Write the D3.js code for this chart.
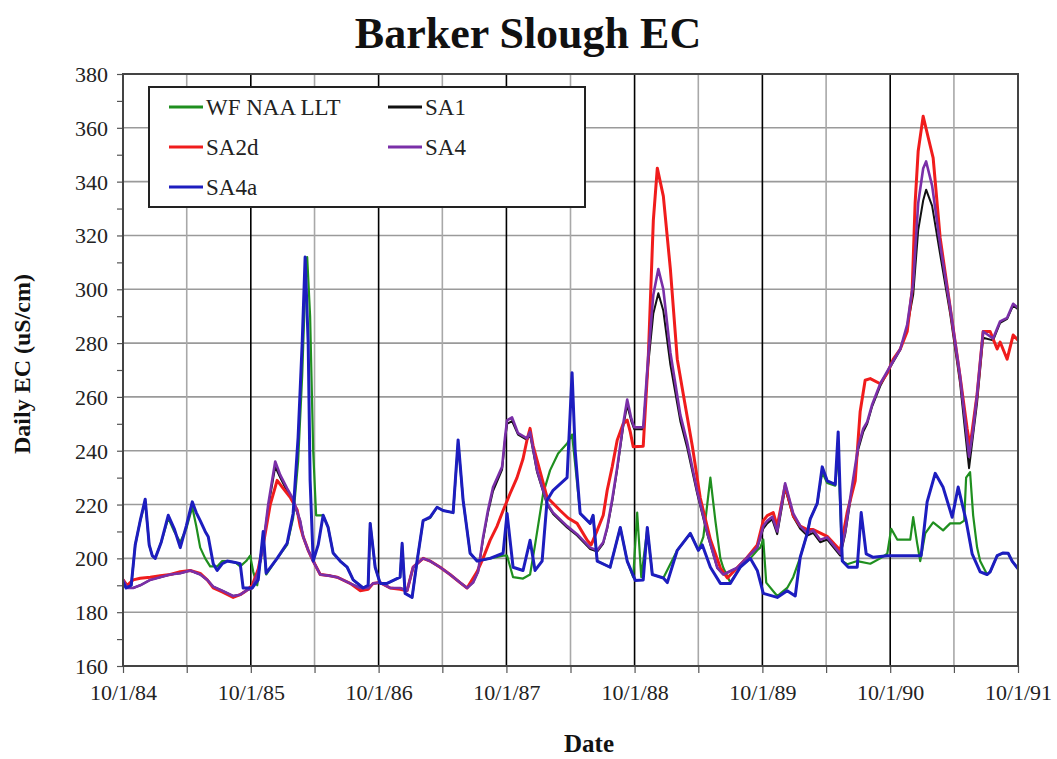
<!DOCTYPE html>
<html><head><meta charset="utf-8">
<script src="https://cdn.jsdelivr.net/npm/d3@7"></script>
<style>html,body{margin:0;padding:0;background:#fff;}svg{display:block;}</style>
</head><body>
<svg id="chart" width="1057" height="759"></svg>
<script>
// ---------------- data (decimal year, daily EC uS/cm) ----------------
const title = "Barker Slough EC";
const yTicks = [160,180,200,220,240,260,280,300,320,340,360,380];
const xTickYears = [1984,1985,1986,1987,1988,1989,1990,1991];
const seriesNames = ["WF NAA LLT","SA1","SA2d","SA4","SA4a"];
const seriesColors = ["#1f8f1f","#111111","#f01c1c","#7a2fa8","#1d1dbf"];

const WF_NAA_LLT = [[1984.750,191],[1984.773,189],[1984.813,190],[1984.844,205],[1984.883,214],[1984.922,221],[1984.953,205],[1984.977,201],[1985.000,200],[1985.047,206],[1985.102,215],[1985.149,210],[1985.196,206],[1985.243,211],[1985.290,219],[1985.321,212],[1985.352,204],[1985.391,200],[1985.430,197],[1985.485,197],[1985.524,199],[1985.563,199],[1985.626,198.5],[1985.665,197],[1985.712,199],[1985.743,201],[1985.767,195],[1985.798,190],[1985.845,208],[1985.868,194],[1985.954,200],[1986.032,205],[1986.079,215],[1986.118,236],[1986.150,268],[1986.173,300],[1986.189,312],[1986.212,290],[1986.236,240],[1986.259,216],[1986.314,216],[1986.353,211.5],[1986.392,202],[1986.447,199],[1986.502,196.7],[1986.549,192],[1986.627,189],[1986.666,190],[1986.682,213],[1986.721,196.7],[1986.760,190.7],[1986.814,190.7],[1986.916,193],[1986.932,205],[1986.955,187],[1987.010,185.5],[1987.049,199],[1987.096,214],[1987.151,215],[1987.205,219],[1987.252,217.8],[1987.331,217],[1987.370,243],[1987.409,221.6],[1987.464,201.9],[1987.518,199],[1987.620,200],[1987.722,201],[1987.753,201],[1987.800,193],[1987.878,192.5],[1987.933,194],[1987.972,205],[1988.035,224],[1988.089,232.7],[1988.152,239],[1988.222,242.7],[1988.261,246],[1988.285,235],[1988.324,216.7],[1988.402,213],[1988.425,216],[1988.457,199],[1988.558,196.7],[1988.637,211.5],[1988.691,199],[1988.738,193],[1988.769,217],[1988.801,193],[1988.848,211],[1988.887,194],[1988.973,192.7],[1989.082,203],[1989.184,209.3],[1989.247,203],[1989.286,208],[1989.309,217],[1989.341,230],[1989.380,214],[1989.419,200],[1989.442,196.5],[1989.497,191],[1989.575,196.7],[1989.653,200],[1989.708,203],[1989.731,204],[1989.755,207],[1989.778,191],[1989.864,186],[1989.942,189],[1989.989,193],[1990.044,200.4],[1990.099,209.3],[1990.122,214.6],[1990.177,220.4],[1990.216,232],[1990.255,228],[1990.318,227],[1990.341,240],[1990.373,199],[1990.412,197.8],[1990.490,199],[1990.592,198],[1990.670,200],[1990.725,201.7],[1990.756,211],[1990.803,207],[1990.905,207],[1990.928,215.3],[1990.959,205.6],[1990.983,199],[1991.022,209.3],[1991.084,213.4],[1991.162,210.4],[1991.217,213],[1991.295,213],[1991.327,214],[1991.342,230],[1991.373,232],[1991.397,216],[1991.428,204],[1991.452,199],[1991.506,194],[1991.530,195],[1991.585,201],[1991.632,202],[1991.671,201.9],[1991.702,199],[1991.750,196]];

const SA4 = [[1984.750,192],[1984.781,189],[1984.828,189],[1984.883,190],[1984.961,192],[1985.039,193],[1985.118,194],[1985.196,194.5],[1985.274,195.5],[1985.352,194],[1985.407,192],[1985.454,189.5],[1985.524,188],[1985.610,186],[1985.665,186.5],[1985.712,188],[1985.759,189],[1985.806,195],[1985.845,205],[1985.884,220],[1985.939,236],[1985.978,231],[1986.032,226],[1986.079,222],[1986.134,214],[1986.158,208],[1986.197,203],[1986.236,199],[1986.291,194],[1986.369,193.5],[1986.423,193],[1986.525,190.7],[1986.603,189],[1986.666,189],[1986.705,190.7],[1986.760,191],[1986.838,189],[1986.916,189],[1986.971,188],[1987.018,196.7],[1987.096,200],[1987.151,199],[1987.229,196.7],[1987.307,194],[1987.385,191],[1987.440,189],[1987.487,191],[1987.526,195],[1987.565,207.8],[1987.604,218],[1987.643,226.4],[1987.714,234],[1987.737,245],[1987.753,251.3],[1987.792,252.4],[1987.839,246.5],[1987.909,244.6],[1987.933,247],[1987.988,232.7],[1988.066,220.4],[1988.113,217],[1988.222,212],[1988.300,209],[1988.402,204],[1988.457,203],[1988.504,206],[1988.535,211.5],[1988.574,222],[1988.613,233.8],[1988.660,250],[1988.691,259],[1988.723,252],[1988.746,248.7],[1988.816,248.7],[1988.855,275],[1988.895,298],[1988.934,307.5],[1988.973,300],[1989.028,276.5],[1989.106,253.3],[1989.160,243],[1989.238,225],[1989.317,209.5],[1989.395,196.5],[1989.442,194],[1989.551,196.5],[1989.630,200.4],[1989.708,204],[1989.755,212],[1989.786,214],[1989.825,215.5],[1989.864,210],[1989.926,227.9],[1989.989,216.7],[1990.044,212],[1990.099,209.3],[1990.146,210.4],[1990.200,206.9],[1990.255,207.8],[1990.357,201.7],[1990.396,210],[1990.435,222.4],[1990.498,241.7],[1990.537,248.2],[1990.568,250.7],[1990.607,257.2],[1990.670,264.9],[1990.748,271.4],[1990.827,277.8],[1990.881,286.9],[1990.928,302.3],[1990.967,332],[1991.006,344.9],[1991.029,347.5],[1991.076,338.5],[1991.139,316.5],[1991.217,293.3],[1991.295,267.5],[1991.350,244.3],[1991.365,237.8],[1991.397,248],[1991.428,261],[1991.475,284.3],[1991.553,281.7],[1991.608,288.1],[1991.663,289.4],[1991.710,294.6],[1991.750,293]];

const SA1 = [[1984.750,192],[1984.781,189],[1984.828,189],[1984.883,190],[1984.961,192],[1985.039,193],[1985.118,194],[1985.196,194.5],[1985.274,195.5],[1985.352,194],[1985.407,192],[1985.454,189.5],[1985.524,188],[1985.610,186],[1985.665,186.5],[1985.712,188],[1985.759,189],[1985.806,195],[1985.845,205],[1985.884,219],[1985.939,234],[1985.978,230],[1986.032,225],[1986.079,221],[1986.134,214],[1986.158,208],[1986.197,203],[1986.236,199],[1986.291,194],[1986.369,193.5],[1986.423,193],[1986.525,190.7],[1986.603,189],[1986.666,189],[1986.705,190.7],[1986.760,191],[1986.838,189],[1986.916,189],[1986.971,188],[1987.018,196.7],[1987.096,200],[1987.151,199],[1987.229,196.7],[1987.307,194],[1987.385,191],[1987.440,189],[1987.487,191],[1987.526,195],[1987.565,207],[1987.604,217],[1987.643,225],[1987.714,233],[1987.737,244],[1987.753,250],[1987.792,251],[1987.839,246],[1987.909,244],[1987.933,246],[1987.988,232],[1988.066,220],[1988.113,216.5],[1988.222,211.5],[1988.300,208.5],[1988.402,203.5],[1988.457,202.5],[1988.504,205.5],[1988.535,211],[1988.574,221],[1988.613,233],[1988.660,249],[1988.691,257],[1988.723,251],[1988.746,248],[1988.816,248],[1988.855,272],[1988.895,291],[1988.934,298.5],[1988.973,292],[1989.028,272],[1989.106,251],[1989.160,241],[1989.238,224],[1989.317,209],[1989.395,196.5],[1989.442,194],[1989.551,196.5],[1989.630,200.4],[1989.708,204],[1989.755,211],[1989.786,213],[1989.825,214.5],[1989.864,209],[1989.926,226],[1989.989,215.5],[1990.044,211],[1990.099,208.5],[1990.146,209.5],[1990.200,206],[1990.255,207],[1990.357,201],[1990.396,209],[1990.435,221],[1990.498,240.5],[1990.537,247],[1990.568,250],[1990.607,256.5],[1990.670,264],[1990.748,271],[1990.827,277.5],[1990.881,286],[1990.928,298],[1990.967,322],[1991.006,333],[1991.029,337],[1991.076,331],[1991.139,313],[1991.217,291],[1991.295,265],[1991.350,240],[1991.365,233.5],[1991.397,246],[1991.428,258],[1991.475,282],[1991.553,281],[1991.608,287.5],[1991.663,289],[1991.710,294],[1991.750,292.5]];

const SA2d = [[1984.750,192],[1984.781,190],[1984.828,192],[1984.883,192.6],[1984.961,193],[1985.039,193.5],[1985.118,194],[1985.196,195],[1985.274,195.5],[1985.352,194.4],[1985.407,192],[1985.454,189],[1985.524,187.5],[1985.610,185.5],[1985.665,186.5],[1985.712,188],[1985.759,190],[1985.806,196],[1985.845,205],[1985.900,220],[1985.954,229],[1986.001,226],[1986.056,222.7],[1986.111,218],[1986.134,212],[1986.158,208],[1986.197,203],[1986.236,199],[1986.291,194],[1986.369,193.5],[1986.423,193],[1986.525,190.7],[1986.603,188],[1986.666,188.5],[1986.705,190.7],[1986.760,191],[1986.838,189],[1986.916,188.5],[1986.971,188],[1987.018,196.7],[1987.096,200],[1987.151,199],[1987.229,196.7],[1987.307,194],[1987.385,191],[1987.440,189],[1987.518,195],[1987.565,200],[1987.620,206.7],[1987.675,212],[1987.722,217.8],[1987.776,224],[1987.831,230],[1987.878,237],[1987.909,244],[1987.933,248.3],[1987.956,242],[1987.988,236.4],[1988.066,222.7],[1988.168,217.8],[1988.230,215],[1988.300,213],[1988.379,206.7],[1988.410,205],[1988.457,210.4],[1988.504,216],[1988.535,225.3],[1988.574,234],[1988.613,243.9],[1988.660,250],[1988.691,251.4],[1988.715,247],[1988.738,241.5],[1988.816,241.7],[1988.855,274],[1988.895,325.6],[1988.926,345],[1988.973,334.6],[1989.028,307.5],[1989.082,274],[1989.129,261],[1989.200,241.7],[1989.262,222.4],[1989.341,207],[1989.419,196.5],[1989.474,192.7],[1989.551,196.5],[1989.630,200.4],[1989.708,205],[1989.755,214],[1989.786,215.9],[1989.833,217],[1989.864,212],[1989.926,227],[1989.989,215.9],[1990.044,212],[1990.099,210.7],[1990.146,210.7],[1990.255,208.2],[1990.357,203],[1990.412,217.2],[1990.474,228.8],[1990.513,254.6],[1990.552,266.2],[1990.592,266.8],[1990.670,264.9],[1990.725,268.8],[1990.771,274],[1990.827,277.8],[1990.881,284.3],[1990.920,299.8],[1990.943,332],[1990.967,351.4],[1991.006,364.3],[1991.045,356.5],[1991.084,348.8],[1991.139,319.1],[1991.217,293.3],[1991.295,267.5],[1991.350,248.2],[1991.373,241.7],[1991.428,261],[1991.475,284.3],[1991.530,284.3],[1991.585,277.8],[1991.608,280.4],[1991.663,274],[1991.710,283],[1991.750,281]];

const SA4a = [[1984.750,191],[1984.773,189],[1984.813,190],[1984.844,205],[1984.883,214],[1984.922,222],[1984.953,205],[1984.977,201],[1985.000,200],[1985.047,206],[1985.102,216],[1985.149,211],[1985.196,204],[1985.243,212],[1985.290,221],[1985.321,217],[1985.352,214],[1985.391,210],[1985.415,208],[1985.454,198],[1985.485,195.5],[1985.524,198],[1985.563,199],[1985.626,198.5],[1985.665,198],[1985.688,189],[1985.759,189],[1985.806,192],[1985.845,210],[1985.868,194.5],[1985.954,200],[1986.032,205.6],[1986.079,216.7],[1986.118,245],[1986.150,280],[1986.173,312],[1986.197,280],[1986.212,229],[1986.236,199],[1986.275,205],[1986.314,216],[1986.353,211.5],[1986.392,202],[1986.447,199],[1986.502,196.7],[1986.549,192],[1986.627,189],[1986.666,190],[1986.682,213],[1986.721,196.7],[1986.760,190.7],[1986.814,190.7],[1986.916,193],[1986.932,205.6],[1986.955,187],[1987.010,185.5],[1987.049,199],[1987.096,214],[1987.151,215.3],[1987.205,219],[1987.252,217.8],[1987.331,217],[1987.370,244],[1987.409,221.6],[1987.464,201.9],[1987.518,199],[1987.620,200],[1987.722,201.9],[1987.753,216.7],[1987.800,196.7],[1987.878,195.5],[1987.933,206.7],[1987.972,195.5],[1988.027,199],[1988.066,221.6],[1988.113,225.3],[1988.222,230],[1988.261,269],[1988.285,240],[1988.324,216.7],[1988.402,213],[1988.425,216],[1988.457,199],[1988.558,196.7],[1988.637,211.5],[1988.691,199],[1988.754,191.8],[1988.816,192],[1988.848,211.5],[1988.887,194],[1988.973,192.7],[1989.004,191],[1989.082,203],[1989.184,209.3],[1989.247,203],[1989.278,205],[1989.341,196.7],[1989.419,190.7],[1989.497,190.7],[1989.575,196.7],[1989.653,200],[1989.708,195.5],[1989.755,187],[1989.864,185.5],[1989.942,188],[1990.005,186],[1990.044,200.4],[1990.099,209.3],[1990.122,214.6],[1990.177,220.4],[1990.216,234],[1990.255,228.8],[1990.318,227.5],[1990.341,247],[1990.373,199],[1990.420,196.7],[1990.490,196.7],[1990.521,217],[1990.560,201.7],[1990.615,200.4],[1990.725,201],[1990.827,201],[1990.990,201],[1991.037,221],[1991.100,231.6],[1991.162,226.4],[1991.233,215.3],[1991.280,226.5],[1991.342,214],[1991.389,201.7],[1991.452,195],[1991.506,194],[1991.530,195],[1991.585,201],[1991.632,202],[1991.671,201.9],[1991.702,199],[1991.750,196]];

const seriesData = [WF_NAA_LLT, SA1, SA2d, SA4, SA4a];
const seriesWidths = [2.2, 2, 3, 2.6, 3];

// ---------------- drawing ----------------
function decToDate(d){
  const yr = Math.floor(d);
  const s = new Date(yr,0,1), e = new Date(yr+1,0,1);
  return new Date(+s + (d-yr)*(e-s));
}
const svg = d3.select("#chart");
const L=123, R=1018, T=74, B=666;
const x = d3.scaleTime().domain([new Date(1984,9,1), new Date(1991,9,1)]).range([L,R]);
const y = d3.scaleLinear().domain([160,380]).range([B,T]);
const serif = "'Liberation Serif','Times New Roman',Times,serif";

svg.append("rect").attr("width",1057).attr("height",759).attr("fill","#fff");

// horizontal gridlines
svg.append("g").selectAll("line").data(yTicks).join("line")
  .attr("x1",L).attr("x2",R).attr("y1",d=>y(d)).attr("y2",d=>y(d))
  .attr("stroke","#9a9a9a").attr("stroke-width",1.6);

// vertical half-year (gray) and year (black) gridlines
const halfYears = xTickYears.slice(0,-1).map(yr=>new Date(yr+1,3,1));
const years = xTickYears.map(yr=>new Date(yr,9,1));
svg.append("g").selectAll("line").data(halfYears).join("line")
  .attr("x1",d=>x(d)).attr("x2",d=>x(d)).attr("y1",T).attr("y2",B)
  .attr("stroke","#a8a8a8").attr("stroke-width",1.6);
svg.append("g").selectAll("line").data(years.slice(1,-1)).join("line")
  .attr("x1",d=>x(d)).attr("x2",d=>x(d)).attr("y1",T).attr("y2",B)
  .attr("stroke","#000").attr("stroke-width",1.6);

// axes
const yAxis = d3.axisLeft(y).tickValues(d3.range(160,381,10)).tickSize(6)
  .tickFormat(d=> d%20===0 ? d : "");
const gy = svg.append("g").attr("transform",`translate(${L},0)`).call(yAxis);
gy.select(".domain").remove();
gy.selectAll(".tick line").attr("stroke","#555").attr("stroke-width",1.2);
gy.selectAll(".tick text").attr("font-family",serif).attr("font-size",22)
  .attr("fill","#222").attr("x",-15).attr("dy","0.34em");

const xAxis = d3.axisBottom(x).tickValues(years.concat(halfYears)).tickSize(7)
  .tickFormat(d=> d.getMonth()===9 ? `${d.getMonth()+1}/${d.getDate()}/${String(d.getFullYear()).slice(2)}` : "");
const gx = svg.append("g").attr("transform",`translate(0,${B})`).call(xAxis);
gx.select(".domain").remove();
gx.selectAll(".tick line").attr("stroke","#555").attr("stroke-width",1.2);
gx.selectAll(".tick text").attr("font-family",serif).attr("font-size",22)
  .attr("fill","#222").attr("y",18);

// series lines
const line = d3.line().x(d=>x(decToDate(d[0]))).y(d=>y(d[1])).curve(d3.curveLinear);
const clip = svg.append("clipPath").attr("id","plotclip").append("rect")
  .attr("x",L).attr("y",T).attr("width",R-L).attr("height",B-T);
const gl = svg.append("g").attr("clip-path","url(#plotclip)");
seriesData.forEach((s,i)=>{
  gl.append("path").datum(s).attr("d",line).attr("fill","none")
    .attr("stroke",seriesColors[i]).attr("stroke-width",seriesWidths[i])
    .attr("stroke-linejoin","round").attr("stroke-linecap","round");
});

// plot frame
svg.append("rect").attr("x",L).attr("y",T).attr("width",R-L).attr("height",B-T)
  .attr("fill","none").attr("stroke","#444").attr("stroke-width",2);

// legend
const lg = svg.append("g");
lg.append("rect").attr("x",149).attr("y",87).attr("width",436).attr("height",120)
  .attr("fill","#fff").attr("stroke","#222").attr("stroke-width",2);
const legendPos = [[169,107],[388,107],[169,147],[388,147],[169,187]];
seriesNames.forEach((n,i)=>{
  const [lx,ly] = legendPos[i];
  lg.append("line").attr("x1",lx).attr("x2",lx+34).attr("y1",ly).attr("y2",ly)
    .attr("stroke",seriesColors[i]).attr("stroke-width",3);
  lg.append("text").attr("x",lx+37).attr("y",ly).attr("dy","0.35em")
    .attr("font-family",serif).attr("font-size",23).attr("fill","#222").text(n);
});

// titles
svg.append("text").attr("x",528).attr("y",48).attr("text-anchor","middle")
  .attr("font-family",serif).attr("font-weight","bold").attr("font-size",44)
  .attr("fill","#111").text(title);
svg.append("text").attr("transform","translate(30,364) rotate(-90)")
  .attr("text-anchor","middle").attr("font-family",serif).attr("font-weight","bold")
  .attr("font-size",24).attr("fill","#111").text("Daily EC (uS/cm)");
svg.append("text").attr("x",589).attr("y",752).attr("text-anchor","middle")
  .attr("font-family",serif).attr("font-weight","bold").attr("font-size",25)
  .attr("fill","#111").text("Date");
</script>
</body></html>
